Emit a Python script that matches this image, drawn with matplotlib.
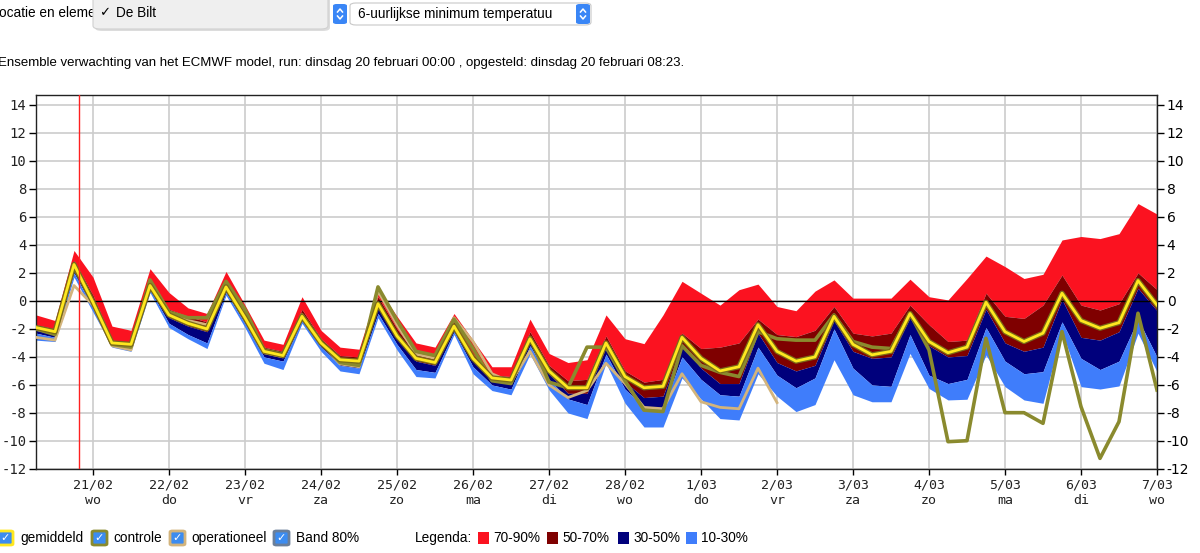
import matplotlib
matplotlib.use("Agg")
import matplotlib.pyplot as plt
import matplotlib.patheffects as pe
from matplotlib.patches import FancyBboxPatch, Rectangle
from matplotlib.lines import Line2D
import numpy as np

plt.rcParams["axes.unicode_minus"] = False

# ---------------------------------------------------------------------------
# Data: 6-hourly ensemble, first value 20/02 06:00 (days relative to 21/02 00:00)
# ---------------------------------------------------------------------------
T0 = -0.75
DT = 0.25
NOW = -0.18

p90 = [-1.0, -1.4, 3.6, 1.7, -1.8, -2.1, 2.3, 0.6, -0.5, -0.9,
       2.1, -0.3, -2.8, -3.1, 0.3, -2.1, -3.3, -3.45, 0.9, -1.1,
       -3.0, -3.3, -0.9, -2.8, -4.7, -4.7, -1.3, -3.75, -4.4, -4.2,
       -1.0, -2.7, -3.05, -1.0, 1.4, 0.55, -0.3, 0.8, 1.2, -0.4,
       -0.7, 0.7, 1.5, 0.2, 0.2, 0.2, 1.55, 0.3, 0.07, 1.6,
       3.2, 2.45, 1.6, 1.9, 4.35, 4.6, 4.45, 4.8, 6.95, 6.2]
p70 = [-1.7, -2.0, 2.9, 0.4, -2.8, -3.0, 1.6, -0.6, -1.1, -1.5,
       1.4, -0.9, -3.3, -3.6, -0.6, -2.7, -3.9, -4.0, 0.3, -2.0,
       -3.8, -4.1, -1.5, -3.8, -5.3, -5.4, -2.2, -4.6, -5.7, -5.6,
       -2.5, -5.0, -5.8, -5.6, -2.3, -3.4, -3.3, -3.0, -1.3, -2.4,
       -2.55, -2.1, -0.4, -2.3, -2.5, -2.3, -0.3, -1.7, -2.9, -2.8,
       0.55, -1.1, -1.25, -0.3, 1.85, -0.3, -0.65, -0.2, 2.0, 0.8]
p50 = [-2.1, -2.4, 2.4, -0.2, -3.1, -3.3, 1.0, -1.2, -1.8, -2.2,
       0.9, -1.4, -3.7, -4.0, -1.2, -3.1, -4.3, -4.5, -0.4, -2.7,
       -4.3, -4.6, -2.0, -4.3, -5.7, -5.9, -2.8, -5.2, -6.6, -6.6,
       -3.3, -5.8, -6.9, -6.8, -3.1, -4.8, -5.9, -5.9, -2.3, -4.4,
       -5.0, -4.6, -1.4, -3.6, -4.1, -4.0, -1.2, -3.2, -4.0, -3.9,
       -0.6, -3.0, -3.6, -3.3, 0.1, -2.6, -2.8, -2.2, 0.9, -0.7]
p30 = [-2.3, -2.6, 2.0, -0.5, -3.2, -3.4, 0.8, -1.6, -2.4, -3.0,
       0.6, -1.6, -4.0, -4.3, -1.4, -3.3, -4.6, -4.8, -0.9, -3.1,
       -4.9, -5.1, -2.2, -4.7, -6.0, -6.3, -3.2, -5.6, -7.0, -7.4,
       -3.8, -6.3, -7.6, -7.6, -4.0, -5.6, -6.7, -6.8, -3.3, -5.3,
       -6.2, -5.5, -2.0, -4.8, -6.0, -6.1, -2.4, -5.3, -5.9, -5.6,
       -1.9, -4.3, -5.2, -5.05, -1.5, -4.1, -4.9, -4.3, -1.3, -4.0]
p10 = [-2.8, -2.9, 1.7, -0.8, -3.3, -3.6, 0.6, -1.9, -2.7, -3.4,
       0.4, -1.9, -4.45, -4.9, -1.6, -3.6, -5.0, -5.2, -1.2, -3.5,
       -5.4, -5.5, -2.4, -5.2, -6.4, -6.7, -3.8, -6.35, -8.0, -8.4,
       -4.45, -7.3, -9.0, -9.0, -5.5, -7.0, -8.4, -8.5, -5.2, -6.8,
       -7.9, -7.4, -4.2, -6.7, -7.2, -7.2, -3.75, -6.25, -7.07, -7.02,
       -3.86, -6.12, -7.07, -7.31, -2.2, -6.12, -6.29, -6.07, -2.31, -5.05]

gemiddeld = [-1.9, -2.2, 2.6, -0.1, -3.0, -3.1, 1.1, -1.0, -1.6, -2.0,
             1.0, -1.2, -3.6, -3.9, -1.1, -3.0, -4.2, -4.3, -0.2, -2.5,
             -4.1, -4.4, -1.8, -4.1, -5.5, -5.65, -2.7, -5.0, -6.2, -6.2,
             -3.0, -5.4, -6.2, -6.1, -2.6, -4.1, -5.0, -4.7, -1.7, -3.6,
             -4.3, -4.0, -1.1, -3.1, -3.85, -3.6, -0.9, -2.9, -3.7, -3.3,
             -0.1, -2.2, -2.9, -2.3, 0.55, -1.4, -1.95, -1.55, 1.45, -0.3]
controle = [-2.0, -2.4, 2.4, -0.1, -3.1, -3.3, 1.5, -0.8, -1.2, -1.2,
            1.4, -0.6, -3.5, -3.8, -1.0, -2.9, -4.4, -4.6, 1.0, -1.4,
            -3.6, -3.9, -1.3, -3.4, -5.7, -5.9, -2.6, -5.8, -6.2, -3.3,
            -3.3, -5.7, -7.8, -7.9, -3.2, -4.6, -5.1, -5.4, -2.2, -2.7,
            -2.8, -2.8, -1.0, -2.9, -3.3, -3.4, -0.9, -3.5, -10.05, -9.98,
            -2.67, -7.98, -7.98, -8.74, -2.19, -7.55, -11.24, -8.62, -0.88, -6.36]
operationeel = [-2.6, -2.8, 1.1, -0.3, -3.2, -3.5, 1.4, -0.9, -1.4, -1.7,
                1.3, -0.9, -3.7, -4.0, -1.0, -3.0, -4.5, -4.7, 0.7, -1.7,
                -3.8, -4.1, -1.2, -2.9, -5.2, -5.8, -3.6, -6.0, -6.9, -6.4,
                -4.45, -5.9, -7.6, -7.7, -5.2, -7.2, -7.6, -7.7, -4.8, -7.26]

day_labels = ["21/02", "22/02", "23/02", "24/02", "25/02", "26/02", "27/02", "28/02",
              "1/03", "2/03", "3/03", "4/03", "5/03", "6/03", "7/03"]
weekdays = ["wo", "do", "vr", "za", "zo", "ma", "di", "wo",
            "do", "vr", "za", "zo", "ma", "di", "wo"]

band_labels = ["70-90%", "50-70%", "30-50%", "10-30%"]
band_colors = ["#fb1220", "#7f0000", "#00007c", "#3f7dfb"]

W, H = 1200, 553
UI_FONT = ["Liberation Sans", "DejaVu Sans"]


def fx(px):
    return px / W


def fy(py):
    return 1 - py / H


fig = plt.figure(figsize=(W / 100, H / 100), dpi=100)
ax = fig.add_axes([fx(36), fy(469), fx(1157) - fx(36), fy(95) - fy(469)])

t = T0 + DT * np.arange(len(p90))
t_op = t[:len(operationeel)]

# bands
edges = [p90, p70, p50, p30, p10]
for k, col in enumerate(band_colors):
    ax.fill_between(t, edges[k + 1], edges[k], color=col, lw=0, zorder=2)

ax.axhline(0, color="black", lw=1, zorder=3)

ax.plot(t_op, operationeel, color="#d3b47c", lw=2, zorder=4)
ax.plot(t, controle, color="#8a8a2e", lw=2.6, zorder=5)
ax.plot(t, gemiddeld, color="#ffe81f", lw=2, zorder=6,
        path_effects=[pe.Stroke(linewidth=3.8, foreground="#7a6a18"), pe.Normal()])

ax.axvline(NOW, color="#ff2020", lw=1, zorder=7)

# axes
ax.set_xlim(T0, 14)
ax.set_ylim(-12, 14.7)
ax.set_yticks(np.arange(-12, 15, 2))
ax.set_xticks(np.arange(len(day_labels)))
ax.set_xticklabels([f"{d}\n{w}" for d, w in zip(day_labels, weekdays)],
                   family="DejaVu Sans Mono", fontsize=9.5, color="#222222",
                   linespacing=1.25)
for lab in ax.get_yticklabels():
    lab.set_family("DejaVu Sans Mono")
    lab.set_fontsize(10)
    lab.set_color("#222222")
ax.tick_params(axis="y", left=True, right=True, labelleft=True, labelright=True,
               direction="out", length=5, width=1, pad=2)
ax.tick_params(axis="x", direction="out", length=4, width=1, pad=3)
ax.grid(True, color="#cccccc", lw=1.2, zorder=0)
ax.set_axisbelow(True)
for s in ax.spines.values():
    s.set_color("#222222")
    s.set_linewidth(1)

# ---------------------------------------------------------------------------
# header (screenshot of the selection widgets)
# ---------------------------------------------------------------------------
fig.text(fx(-1), fy(13), "ocatie en elemer", family=UI_FONT, fontsize=9.8,
         va="center", ha="left")
shadow = FancyBboxPatch((fx(95), fy(31)), fx(235), fy(-4) - fy(31),
                        boxstyle="round,pad=0,rounding_size=0.006",
                        transform=fig.transFigure, fc="#bbbbbb", ec="none",
                        alpha=0.5, zorder=9)
fig.patches.append(shadow)
popup = FancyBboxPatch((fx(93), fy(29)), fx(235), fy(-6) - fy(29),
                       boxstyle="round,pad=0,rounding_size=0.006",
                       transform=fig.transFigure, fc="#efefef", ec="#d0d0d0",
                       lw=0.8, zorder=10)
fig.patches.append(popup)
fig.text(fx(99), fy(13), "\u2713", family=["DejaVu Sans"], fontsize=9.5,
         va="center", zorder=11)
fig.text(fx(116), fy(13), "De Bilt", family=UI_FONT, fontsize=9.8,
         va="center", zorder=11)

select2 = FancyBboxPatch((fx(350), fy(25)), fx(241), fy(3) - fy(25),
                         boxstyle="round,pad=0,rounding_size=0.005",
                         transform=fig.transFigure, fc="white", ec="#c8c8c8",
                         lw=0.8, zorder=10)
fig.patches.append(select2)
fig.text(fx(358), fy(14), "6-uurlijkse minimum temperatuu", family=UI_FONT,
         fontsize=9.8, va="center", zorder=11)


def stepper(x0):
    box = FancyBboxPatch((fx(x0), fy(24)), fx(14), fy(4) - fy(24),
                         boxstyle="round,pad=0,rounding_size=0.003",
                         transform=fig.transFigure, fc="#3a86f6", ec="none",
                         zorder=12)
    fig.patches.append(box)
    cx = x0 + 7
    for sgn in (1, -1):
        y1 = 14 - sgn * 2
        y2 = 14 - sgn * 5
        fig.lines.append(Line2D([fx(cx - 2.5), fx(cx), fx(cx + 2.5)],
                                [fy(y1), fy(y2), fy(y1)],
                                transform=fig.transFigure, color="white",
                                lw=1.1, zorder=13))


stepper(333)
stepper(576)

fig.text(fx(-2), fy(63),
         "Ensemble verwachting van het ECMWF model, run: dinsdag 20 februari 00:00 , "
         "opgesteld: dinsdag 20 februari 08:23.",
         family=UI_FONT, fontsize=9.55, va="center", ha="left")

# ---------------------------------------------------------------------------
# legend row
# ---------------------------------------------------------------------------
LEG_Y = 538
checks = [("gemiddeld", "#ffe81f", -2, 20), ("controle", "#8a8a2e", 92, 113),
          ("operationeel", "#d3b47c", 170, 191), ("Band 80%", "#6a7f9a", 274, 296)]
for label, border, x0, xt in checks:
    b = FancyBboxPatch((fx(x0), fy(LEG_Y + 7)), fx(15), fy(LEG_Y - 7) - fy(LEG_Y + 7),
                       boxstyle="round,pad=0,rounding_size=0.002",
                       transform=fig.transFigure, fc="#3c8cf0", ec=border, lw=2)
    fig.patches.append(b)
    fig.text(fx(x0 + 7.5), fy(LEG_Y), "\u2713", family=["DejaVu Sans"],
             fontsize=8, color="white", ha="center", va="center")
    fig.text(fx(xt), fy(LEG_Y), label, family=UI_FONT, fontsize=9.8, va="center")

fig.text(fx(415), fy(LEG_Y), "Legenda:", family=UI_FONT, fontsize=9.8, va="center")
for label, col, x0 in zip(band_labels, band_colors, [478, 547, 618, 686]):
    fig.patches.append(Rectangle((fx(x0), fy(LEG_Y + 6)), fx(11), fy(LEG_Y - 6) - fy(LEG_Y + 6),
                                 transform=fig.transFigure, fc=col, ec="none"))
    fig.text(fx(x0 + 15), fy(LEG_Y), label, family=UI_FONT, fontsize=9.8, va="center")

fig.savefig("out.png", dpi=100)
